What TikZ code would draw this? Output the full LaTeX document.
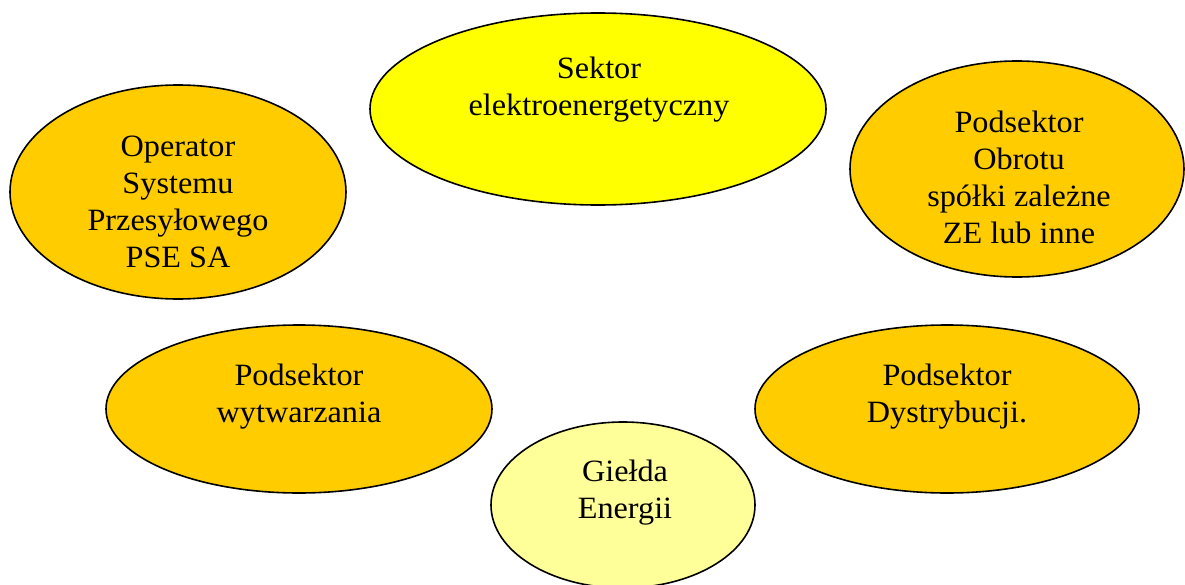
\documentclass[tikz,border=0pt]{standalone}
\usepackage{fontspec}
\setmainfont{Liberation Serif}[FakeStretch=1.04]
\usepackage{tikz}
\usetikzlibrary{shapes.geometric, positioning}

\definecolor{sectorgold}{HTML}{FFCC00}
\definecolor{sectoryellow}{HTML}{FFFF00}
\definecolor{sectorpale}{HTML}{FFFF99}

\begin{document}
\begin{tikzpicture}[x=0.75pt, y=-0.75pt]
    \tikzstyle{sector} = [ellipse, draw=black, line width=1.2pt, inner sep=0pt, fill=sectorgold]
    \tikzstyle{label} = [align=center, inner sep=0pt, font=\fontsize{23.25pt}{27.75pt}\selectfont]

    \useasboundingbox (0,0) rectangle (1185,585);

    % the ellipses
    \node[sector, fill=sectoryellow, minimum width=342pt, minimum height=144pt] (sektor) at (598,109) {};
    \node[sector, minimum width=252pt, minimum height=160.5pt] (operator) at (178,192) {};
    \node[sector, minimum width=250.5pt, minimum height=162pt] (obrot) at (1017,169) {};
    \node[sector, minimum width=289.5pt, minimum height=126pt] (wytwarzanie) at (299,409) {};
    \node[sector, minimum width=288pt, minimum height=126pt] (dystrybucja) at (947,409) {};
    \node[sector, fill=sectorpale, minimum width=198pt, minimum height=124.5pt] (gielda) at (623,505) {};

    % texts
    \node[label] (sektortxt) at (599,90) {Sektor\\elektroenergetyczny};
    \node[label] (operatortxt) at (178,202) {Operator\\Systemu\\Przesyłowego\\PSE SA};
    \node[label] (obrottxt) at (1019,177) {Podsektor\\Obrotu\\spółki zależne\\ZE lub inne};
    \node[label] (wytwarzanietxt) at (299,397) {Podsektor\\wytwarzania};
    \node[label] (dystrybucjatxt) at (947,397) {Podsektor\\Dystrybucji.};
    \node[label] (gieldatxt) at (625,493) {Giełda\\Energii};
\end{tikzpicture}
\end{document}
